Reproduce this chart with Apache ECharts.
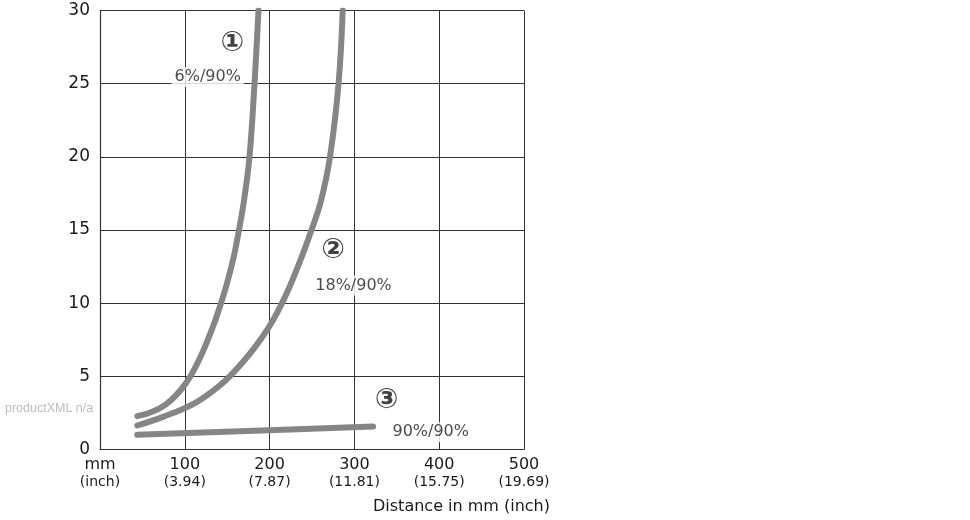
<!DOCTYPE html>
<html><head><meta charset="utf-8">
<script src="https://cdn.jsdelivr.net/npm/echarts@6/dist/echarts.min.js"></script>
<style>html,body{margin:0;padding:0;background:#fff}#c{width:970px;height:520px}</style>
</head><body><div id="c"></div>
<script>
// Data
const xTicksMm   = ['mm', '100', '200', '300', '400', '500'];
const xTicksInch = ['(inch)', '(3.94)', '(7.87)', '(11.81)', '(15.75)', '(19.69)'];
const yTicks = [0, 5, 10, 15, 20, 25, 30];

const curve1 = [[44,2.28],[55.4,2.45],[70.8,2.82],[83.7,3.37],[94.9,4.05],[106.7,5.01],[120.3,6.56],[128.5,7.7],[136,8.84],[142.7,10],[148.6,11.11],[153.9,12.26],[158.6,13.4],[163.9,15],[169.8,17],[176.3,20],[182.2,25],[186.9,30]];
const curve2 = [[44,1.64],[74.3,2.23],[110.8,3.14],[139.2,4.28],[153.3,5.01],[176.9,6.56],[191.6,7.7],[204,8.84],[214.6,10],[223.5,11.11],[231.7,12.26],[239.4,13.4],[249.4,15],[260.6,17],[271.2,20],[281.3,25],[286.2,30]];
const curve3 = [[44,1.0],[165,1.25],[322,1.57]];

const circledLabels = [
  {name:'①', value:[156,27.7]},
  {name:'②', value:[275,13.6]},
  {name:'③', value:[338,3.3]}
];
const ratioLabels = [
  {name:'6%/90%', value:[127,25.45]},
  {name:'18%/90%', value:[299,11.2]},
  {name:'90%/90%', value:[390,1.18]}
];

const FONT = '"DejaVu Sans", "Liberation Sans", sans-serif';
const chart = echarts.init(document.getElementById('c'));
const lineStyle = {color:'#858585', width:6, cap:'round', join:'round'};
chart.setOption({
  animation:false,
  backgroundColor:'#fff',
  grid:{left:100, right:446, top:10.5, bottom:70.5},
  xAxis:{
    type:'value', min:0, max:500, interval:100,
    axisLine:{show:true, onZero:false, lineStyle:{color:'#333', width:1.2}},
    axisTick:{show:false},
    splitLine:{show:true, lineStyle:{color:'#333', width:1}},
    axisLabel:{
      margin:6, color:'#1a1a1a', fontFamily:FONT,
      formatter:function(v){const i=Math.round(v/100);return '{a|'+xTicksMm[i]+'}\n{b|'+xTicksInch[i]+'}';},
      rich:{a:{fontSize:16, fontFamily:FONT, color:'#1a1a1a', lineHeight:18}, b:{fontSize:14, fontFamily:FONT, color:'#1a1a1a', lineHeight:18}}
    }
  },
  yAxis:{
    type:'value', min:0, max:30, interval:5,
    axisLine:{show:true, lineStyle:{color:'#333', width:1.2}},
    axisTick:{show:false},
    splitLine:{show:true, lineStyle:{color:'#333', width:1}},
    axisLabel:{margin:10, fontSize:17, color:'#1a1a1a', fontFamily:FONT,
      formatter:function(v){return yTicks.indexOf(v)>=0?String(v):'';}}
  },
  graphic:[
    {type:'text', left:5, top:402, style:{text:'productXML n/a', fill:'#bdbdbd', font:'12.5px "Liberation Sans", Arial, sans-serif'}},
    {type:'text', right:420, top:499, style:{text:'Distance in mm (inch)', fill:'#1a1a1a', font:'16px '+FONT, textAlign:'right'}}
  ],
  series:[
    {type:'line', data:curve1, smooth:0.4, showSymbol:false, lineStyle:lineStyle, z:3},
    {type:'line', data:curve2, smooth:0.4, showSymbol:false, lineStyle:lineStyle, z:3},
    {type:'line', data:curve3, smooth:0.3, showSymbol:false, lineStyle:lineStyle, z:3},
    {type:'scatter', data:circledLabels, symbolSize:0, z:5,
      label:{show:true, position:'inside', formatter:'{b}', fontSize:28, fontWeight:'bold', color:'#111', fontFamily:'"DejaVu Sans", "Noto Sans CJK SC", sans-serif'}},
    {type:'scatter', data:ratioLabels, symbolSize:0, z:5,
      label:{show:true, position:'inside', formatter:'{b}', fontSize:16, color:'#1a1a1a', fontFamily:FONT, backgroundColor:'#fff', padding:[2,3]}}
  ]
});
</script></body></html>
